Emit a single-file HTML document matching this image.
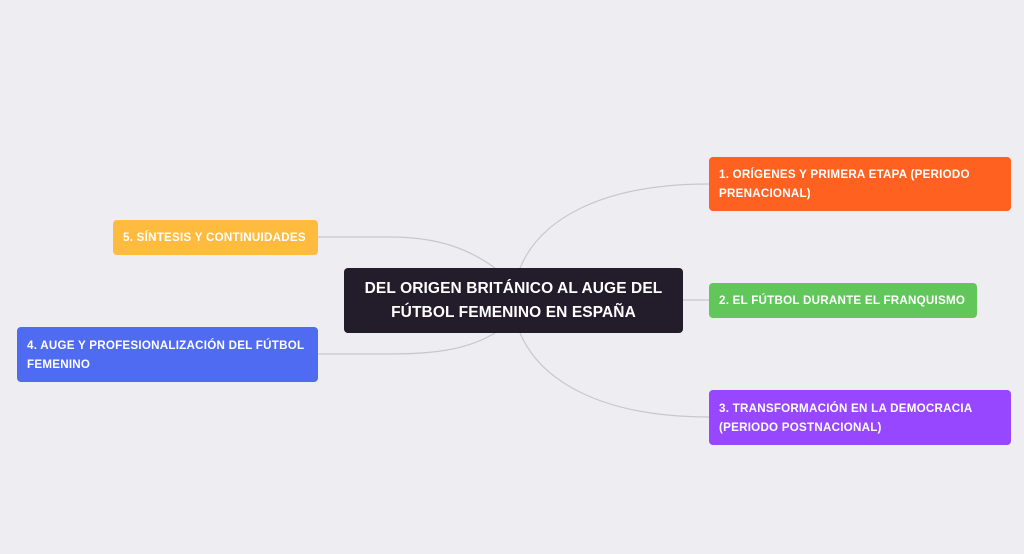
<!DOCTYPE html>
<html><head><meta charset="utf-8"><style>
body{margin:0;width:1024px;height:554px;background:#eeedf1;position:relative;overflow:hidden;font-family:"Liberation Sans",sans-serif;}
.b{position:absolute;color:#fff;font-weight:bold;font-size:11.6px;line-height:19px;border-radius:4px;box-sizing:border-box;padding:0 10px;display:flex;align-items:center;letter-spacing:0.25px;white-space:nowrap}
svg{position:absolute;left:0;top:0}
</style></head><body>
<svg width="1024" height="554"><g fill="none" stroke="#c9c7cd" stroke-width="1.2">
<path d="M520,268 C540,220 600,184 709,184"/>
<path d="M683,300 L709,300"/>
<path d="M520,333 C540,380 600,417 709,417"/>
<path d="M495,268 C470,250 440,237 390,237 L318,237"/>
<path d="M495,333 C470,348 440,354 390,354 L318,354"/>
</g></svg>
<div class="b" style="left:344px;top:268px;width:339px;height:65px;background:#221c2b;font-size:15.5px;line-height:24px;justify-content:center;text-align:center;letter-spacing:0.1px">DEL ORIGEN BRITÁNICO AL AUGE DEL<br>FÚTBOL FEMENINO EN ESPAÑA</div>
<div class="b" style="left:709px;top:157px;width:302px;height:54px;background:#ff6121">1. ORÍGENES Y PRIMERA ETAPA (PERIODO<br>PRENACIONAL)</div>
<div class="b" style="left:709px;top:283px;width:268px;height:35px;background:#62c75a">2. EL FÚTBOL DURANTE EL FRANQUISMO</div>
<div class="b" style="left:709px;top:390px;width:302px;height:55px;background:#9747ff">3. TRANSFORMACIÓN EN LA DEMOCRACIA<br>(PERIODO POSTNACIONAL)</div>
<div class="b" style="left:113px;top:220px;width:205px;height:35px;background:#ffbb3d">5. SÍNTESIS Y CONTINUIDADES</div>
<div class="b" style="left:17px;top:327px;width:301px;height:55px;background:#4f6bf2">4. AUGE Y PROFESIONALIZACIÓN DEL FÚTBOL<br>FEMENINO</div>
</body></html>
